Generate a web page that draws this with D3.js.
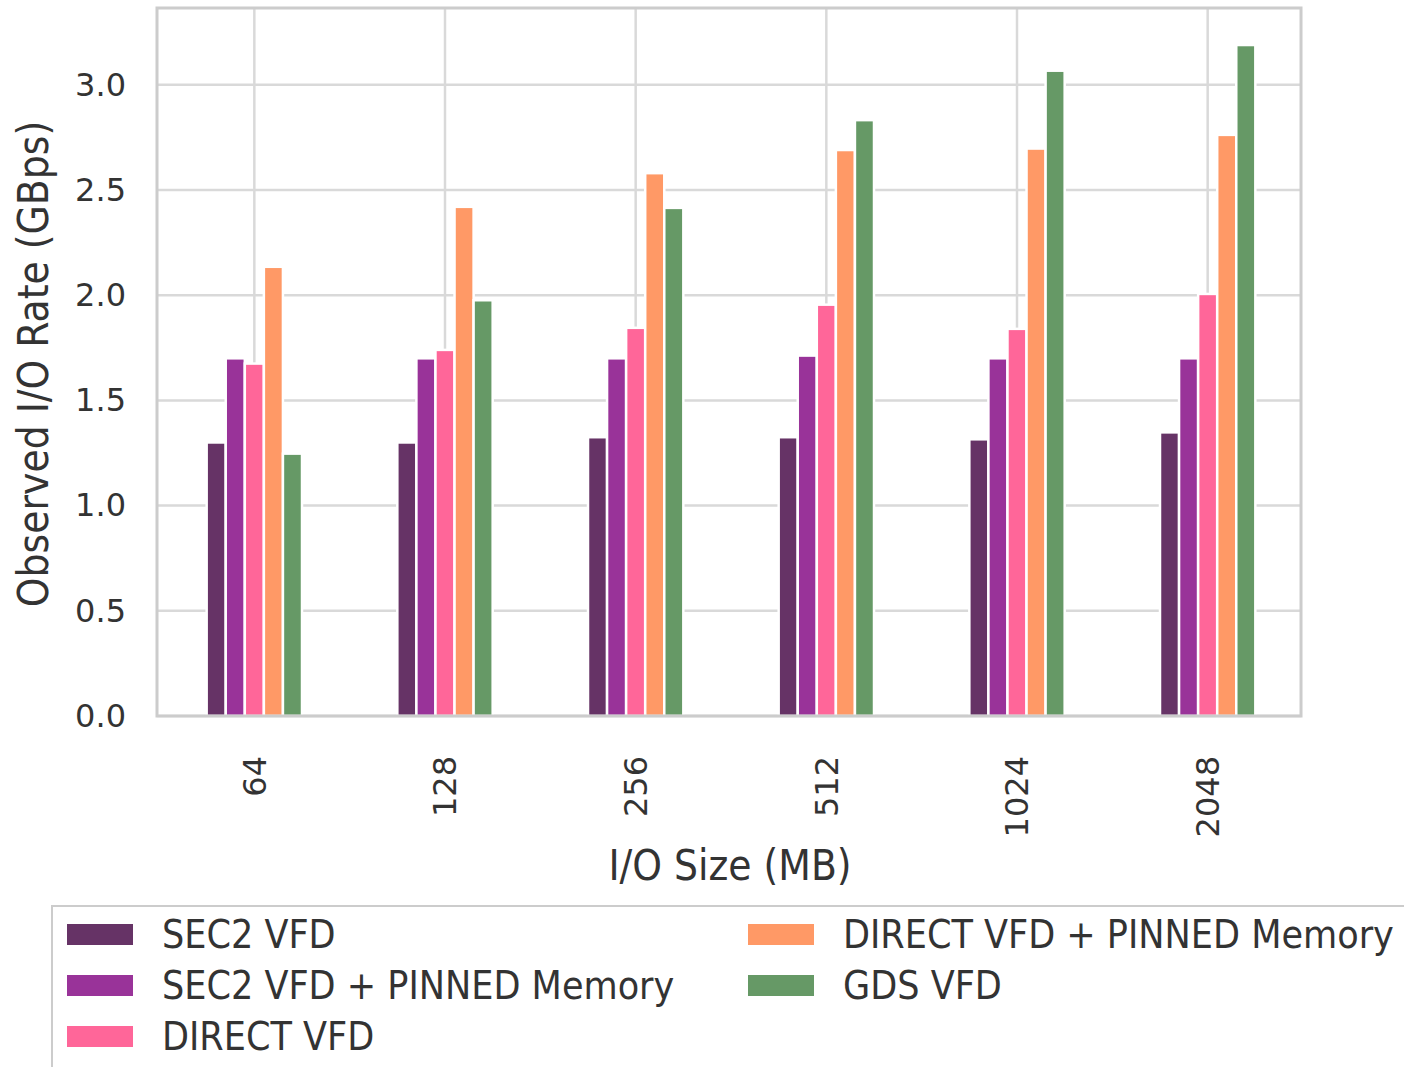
<!DOCTYPE html>
<html>
<head>
<meta charset="utf-8">
<script src="https://cdn.jsdelivr.net/npm/d3@7"></script>
<style>
  html, body { margin: 0; padding: 0; background: #fff; }
  svg { display: block; }
  text { font-family: "DejaVu Sans Condensed", "DejaVu Sans", sans-serif; fill: #333; }
</style>
</head>
<body>
<svg id="chart" width="1404" height="1067"></svg>
<script>
// I/O size categories (MB)
const ioSizes = ["64", "128", "256", "512", "1024", "2048"];

// Observed I/O rate per driver (GBps)
const sec2Vfd        = [1.30, 1.30, 1.325, 1.325, 1.315, 1.348];
const sec2Pinned     = [1.70, 1.70, 1.70, 1.713, 1.70, 1.70];
const directVfd      = [1.675, 1.74, 1.845, 1.955, 1.84, 2.006];
const directPinned   = [2.135, 2.42, 2.58, 2.69, 2.697, 2.762];
const gdsVfd         = [1.247, 1.976, 2.415, 2.832, 3.067, 3.189];

const seriesNames = ["SEC2 VFD", "SEC2 VFD + PINNED Memory", "DIRECT VFD",
                     "DIRECT VFD + PINNED Memory", "GDS VFD"];
const seriesValues = [sec2Vfd, sec2Pinned, directVfd, directPinned, gdsVfd];
const seriesColors = ["#663366", "#993399", "#ff6699", "#ff9966", "#669966"];

const yTicks = [0, 0.5, 1.0, 1.5, 2.0, 2.5, 3.0];

const svg = d3.select("#chart");
const plot = { left: 157, right: 1301, top: 8, bottom: 716 };

const x0 = d3.scaleBand().domain(ioSizes).range([plot.left + 2, plot.right + 2]).padding(0);
const groupWidth = x0.bandwidth() * 0.5;
const x1 = d3.scaleBand().domain(d3.range(seriesNames.length)).range([0, groupWidth]).padding(0);
const y = d3.scaleLinear().domain([0, 3.365]).range([plot.bottom, plot.top]);

// grid
const grid = svg.append("g");
grid.selectAll("line.h").data(yTicks).join("line")
  .attr("x1", plot.left).attr("x2", plot.right)
  .attr("y1", d => y(d)).attr("y2", d => y(d))
  .attr("stroke", "#d9d9d9").attr("stroke-width", 2.5);
grid.selectAll("line.v").data(ioSizes).join("line")
  .attr("x1", d => x0(d) + x0.bandwidth() / 2).attr("x2", d => x0(d) + x0.bandwidth() / 2)
  .attr("y1", plot.top).attr("y2", plot.bottom)
  .attr("stroke", "#d9d9d9").attr("stroke-width", 2.5);

// bars
const groups = svg.append("g").selectAll("g").data(ioSizes).join("g")
  .attr("transform", d => `translate(${x0(d) + (x0.bandwidth() - groupWidth) / 2},0)`);
groups.selectAll("rect")
  .data((d, i) => seriesValues.map((vals, s) => ({ s, v: vals[i] })))
  .join("rect")
  .attr("x", d => x1(d.s))
  .attr("width", x1.bandwidth())
  .attr("y", d => y(d.v))
  .attr("height", d => y(0) - y(d.v))
  .attr("fill", d => seriesColors[d.s])
  .attr("stroke", "#fff").attr("stroke-width", 2.5);

// frame
svg.append("rect")
  .attr("x", plot.left).attr("y", plot.top)
  .attr("width", plot.right - plot.left).attr("height", plot.bottom - plot.top)
  .attr("fill", "none").attr("stroke", "#cccccc").attr("stroke-width", 3);

// y axis
const yAxis = svg.append("g")
  .attr("transform", `translate(${plot.left},0)`)
  .call(d3.axisLeft(y).tickValues(yTicks).tickFormat(d3.format(".1f")).tickSize(0).tickPadding(31));
yAxis.select(".domain").remove();
yAxis.selectAll("text")
  .style("font-family", '"DejaVu Sans", sans-serif')
  .style("font-size", "32px").attr("fill", "#333");

// x axis
const xAxis = svg.append("g")
  .attr("transform", `translate(0,${plot.bottom})`)
  .call(d3.axisBottom(x0).tickSize(0));
xAxis.select(".domain").remove();
xAxis.selectAll("text")
  .attr("transform", "rotate(-90)")
  .attr("x", -40).attr("y", 0).attr("dy", "0.35em")
  .attr("text-anchor", "end")
  .style("font-family", '"DejaVu Sans", sans-serif')
  .style("font-size", "32px").attr("fill", "#333");

// axis titles
svg.append("text")
  .attr("x", 730).attr("y", 880)
  .attr("text-anchor", "middle")
  .style("font-size", "42px")
  .text("I/O Size (MB)");
svg.append("text")
  .attr("transform", "translate(48,364) rotate(-90)")
  .attr("text-anchor", "middle")
  .style("font-size", "42px")
  .text("Observed I/O Rate (GBps)");

// legend
const legend = svg.append("g");
legend.append("rect")
  .attr("x", 52).attr("y", 906).attr("width", 1400).attr("height", 200)
  .attr("fill", "#fff").attr("stroke", "#cccccc").attr("stroke-width", 2);
const colX = [67, 748];
const rowY = [934, 985, 1036];
seriesNames.forEach((name, i) => {
  const col = i < 3 ? 0 : 1;
  const row = i < 3 ? i : i - 3;
  legend.append("rect")
    .attr("x", colX[col]).attr("y", rowY[row] - 10)
    .attr("width", 66).attr("height", 21)
    .attr("fill", seriesColors[i]);
  legend.append("text")
    .attr("x", colX[col] + 95).attr("y", rowY[row])
    .attr("dy", "0.36em")
    .style("font-size", "39px")
    .text(name);
});
</script>
</body>
</html>
